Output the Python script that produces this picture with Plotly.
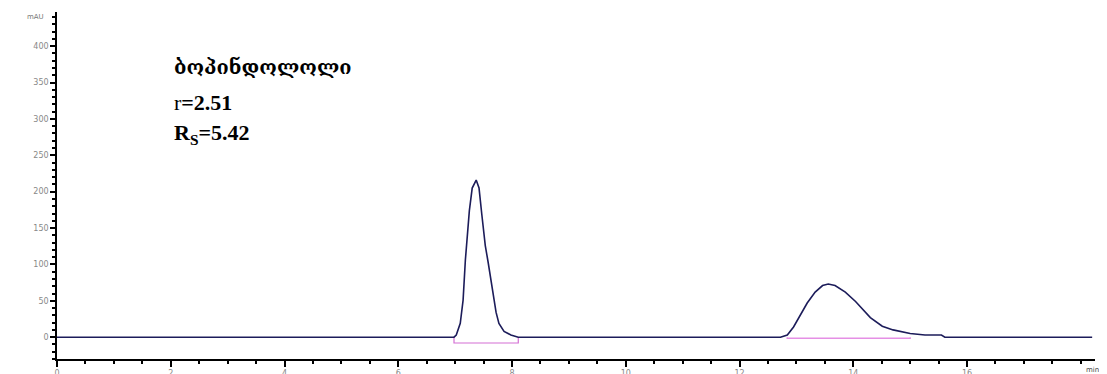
import plotly.graph_objects as go

# Chromatogram read-off (time in min, absorbance in mAU)
time_min = [0.0, 6.98, 7.02, 7.09, 7.14, 7.18, 7.25, 7.30, 7.37, 7.42, 7.47, 7.53, 7.58, 7.65,
            7.72, 7.77, 7.86, 7.98, 8.11, 12.72, 12.84, 12.95, 13.07, 13.19, 13.33, 13.46, 13.56,
            13.68, 13.86, 14.04, 14.30, 14.51, 14.70, 15.00, 15.26, 15.55, 15.61, 18.2]
signal_mau = [0, 0, 3, 19, 51, 106, 174, 205, 216, 205, 168, 126, 103, 65,
              34, 19, 8, 3, 0, 0, 3, 14, 30, 47, 62, 71, 73,
              71, 62, 49, 27, 15, 10, 5, 3, 3, 0, 0]

# Integration baselines (start, end, level)
int_x1 = [6.98, 6.98, 8.11, 8.11]
int_y1 = [0, -8, -8, 0]
int_x2 = [12.84, 12.84, 15.00, 15.00]
int_y2 = [0, -1.5, -1.5, 0]

x_ticks = [0, 2, 4, 6, 8, 10, 12, 14, 16]
y_ticks = [0, 50, 100, 150, 200, 250, 300, 350, 400]

compound = "ბოპინდოლოლი"
alpha_txt = "r"
alpha_val = "=2.51"
rs_val = "=5.42"

fig = go.Figure()
fig.add_trace(go.Scatter(x=int_x1, y=int_y1, mode="lines",
                         line=dict(color="#d46fd4", width=1.2), hoverinfo="skip"))
fig.add_trace(go.Scatter(x=int_x2, y=int_y2, mode="lines",
                         line=dict(color="#e58fe5", width=1.5), hoverinfo="skip"))
fig.add_trace(go.Scatter(x=time_min, y=signal_mau, mode="lines",
                         line=dict(color="#1c1c5a", width=1.6)))

fig.update_layout(
    width=1099, height=366,
    margin=dict(l=49, r=12, t=4, b=15),
    paper_bgcolor="white", plot_bgcolor="white",
    showlegend=False,
    xaxis=dict(range=[0, 18.25], tickvals=x_ticks, ticktext=[str(v) for v in x_ticks],
               automargin=False,
               showgrid=False, zeroline=False, showline=True, linecolor="black", linewidth=1.5,
               ticks="outside", ticklen=6, tickcolor="black", tickwidth=1.5,
               tickfont=dict(size=8, color="#888", family="DejaVu Sans"),
               minor=dict(dtick=0.5, ticks="outside", ticklen=3, tickcolor="black")),
    yaxis=dict(range=[-30, 447], tickvals=y_ticks, ticktext=[str(v) for v in y_ticks],
               automargin=False,
               showgrid=False, zeroline=False, showline=True, linecolor="black", linewidth=1.5,
               ticks="outside", ticklen=5, tickcolor="black", tickwidth=1.5,
               tickfont=dict(size=8, color="#888", family="DejaVu Sans"),
               minor=dict(dtick=10, ticks="outside", ticklen=3, tickcolor="black")),
)

serif = "Liberation Serif, DejaVu Serif, serif"
fig.add_annotation(xref="paper", yref="paper", x=-0.031, y=0.986, text="mAU", showarrow=False,
                   xanchor="left", yanchor="middle", font=dict(size=7, color="#777", family="DejaVu Sans"))
fig.add_annotation(xref="paper", yref="paper", x=1.006, y=-0.015, text="min", showarrow=False,
                   xanchor="right", yanchor="top", font=dict(size=7, color="#444", family="DejaVu Sans"))
fig.add_annotation(x=2.02, y=372, text=f"<b>{compound}</b>", showarrow=False, xanchor="left",
                   yanchor="middle", font=dict(size=20, color="black", family=serif))
fig.add_annotation(x=2.02, y=322, text=f"{alpha_txt}<b>{alpha_val}</b>", showarrow=False,
                   xanchor="left", yanchor="middle", font=dict(size=22, color="black", family=serif))
fig.add_annotation(x=2.02, y=279, text=f"<b>R<sub>S</sub>{rs_val}</b>", showarrow=False,
                   xanchor="left", yanchor="middle", font=dict(size=22, color="black", family=serif))

fig.write_html("out.html")
